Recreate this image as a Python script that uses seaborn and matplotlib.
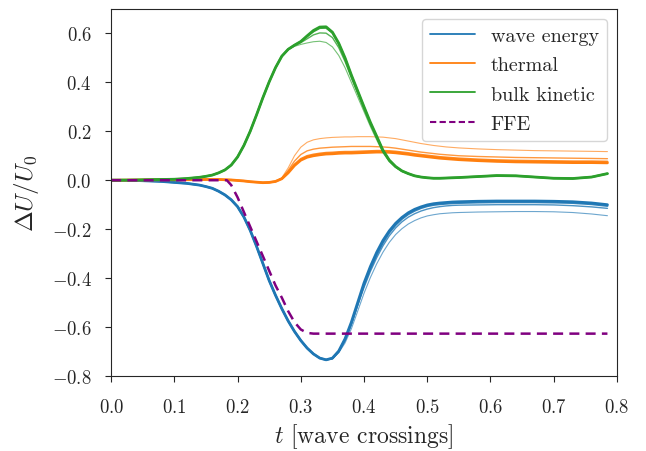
import numpy as np
import pandas as pd
import matplotlib
matplotlib.use("Agg")
import matplotlib.pyplot as plt
from matplotlib.lines import Line2D
import seaborn as sns

# ---------------- data ----------------
t = [0.0, 0.04, 0.08, 0.10, 0.12, 0.14, 0.15, 0.16, 0.17, 0.18, 0.19, 0.20, 0.21, 0.22,
     0.23, 0.24, 0.25, 0.26,
     0.27, 0.28, 0.29, 0.30, 0.31, 0.32, 0.33, 0.34, 0.35, 0.36, 0.37, 0.38, 0.39, 0.40,
     0.41, 0.42, 0.43, 0.44, 0.45, 0.46, 0.47, 0.48, 0.49, 0.50, 0.51, 0.52, 0.53, 0.54, 0.55,
     0.58, 0.61, 0.64, 0.67, 0.70, 0.73, 0.76, 0.785]

# early part (t <= 0.26) identical for every resolution
wave_early = [0, -0.001, -0.005, -0.009, -0.013, -0.02, -0.026, -0.033, -0.045, -0.06, -0.08,
              -0.108, -0.15, -0.205, -0.27, -0.34, -0.41, -0.47]
therm_early = [0, 0.001, 0.002, 0.002, 0.002, 0.003, 0.003, 0.003, 0.003, 0.002, 0.001,
               -0.001, -0.003, -0.006, -0.008, -0.01, -0.009, -0.005]
kin_early = [0, 0.001, 0.003, 0.004, 0.007, 0.012, 0.016, 0.021, 0.03, 0.042, 0.062,
             0.095, 0.142, 0.2, 0.267, 0.337, 0.402, 0.46]

# wave energy, t >= 0.27, four resolutions (lowest -> highest)
wave_r1 = [-0.525, -0.575, -0.618, -0.655, -0.686, -0.71, -0.727, -0.734, -0.73, -0.705,
           -0.665, -0.607, -0.535, -0.462, -0.398, -0.342, -0.294, -0.254, -0.222, -0.198,
           -0.179, -0.165, -0.154, -0.146, -0.141, -0.137, -0.135, -0.133, -0.132,
           -0.13, -0.129, -0.128, -0.128, -0.129, -0.132, -0.138, -0.145]
wave_r2 = [-0.525, -0.575, -0.618, -0.655, -0.686, -0.71, -0.727, -0.734, -0.729, -0.701,
           -0.655, -0.59, -0.512, -0.438, -0.373, -0.317, -0.268, -0.227, -0.195, -0.17,
           -0.151, -0.137, -0.126, -0.118, -0.112, -0.108, -0.105, -0.103, -0.102,
           -0.101, -0.1, -0.1, -0.1, -0.101, -0.104, -0.109, -0.115]
wave_r3 = [-0.525, -0.575, -0.618, -0.655, -0.686, -0.71, -0.727, -0.734, -0.728, -0.7,
           -0.651, -0.585, -0.506, -0.428, -0.361, -0.304, -0.255, -0.214, -0.183, -0.158,
           -0.139, -0.125, -0.114, -0.106, -0.101, -0.098, -0.096, -0.094, -0.093,
           -0.091, -0.09, -0.09, -0.09, -0.091, -0.093, -0.098, -0.105]
wave_r4 = [-0.525, -0.575, -0.618, -0.655, -0.686, -0.71, -0.727, -0.734, -0.727, -0.698,
           -0.648, -0.58, -0.5, -0.42, -0.353, -0.295, -0.246, -0.207, -0.176, -0.152,
           -0.133, -0.119, -0.109, -0.101, -0.096, -0.093, -0.091, -0.089, -0.088,
           -0.086, -0.085, -0.085, -0.085, -0.086, -0.088, -0.093, -0.1]

# thermal, t >= 0.27
therm_r1 = [0.01, 0.05, 0.1, 0.135, 0.155, 0.165, 0.17, 0.173, 0.175, 0.176,
            0.177, 0.177, 0.178, 0.178, 0.178, 0.177, 0.176, 0.173, 0.17, 0.165,
            0.16, 0.155, 0.15, 0.146, 0.142, 0.139, 0.136, 0.134, 0.132,
            0.128, 0.125, 0.123, 0.121, 0.12, 0.119, 0.118, 0.117]
therm_r2 = [0.008, 0.04, 0.078, 0.105, 0.12, 0.127, 0.131, 0.133, 0.135, 0.136,
            0.137, 0.138, 0.138, 0.138, 0.138, 0.137, 0.136, 0.134, 0.131, 0.127,
            0.123, 0.119, 0.115, 0.112, 0.109, 0.106, 0.104, 0.102, 0.1,
            0.097, 0.095, 0.093, 0.092, 0.091, 0.09, 0.089, 0.088]
therm_r3 = [0.007, 0.033, 0.064, 0.087, 0.099, 0.105, 0.109, 0.112, 0.113, 0.115,
            0.116, 0.116, 0.117, 0.118, 0.119, 0.12, 0.12, 0.119, 0.117, 0.114,
            0.111, 0.107, 0.104, 0.101, 0.098, 0.095, 0.093, 0.091, 0.089,
            0.085, 0.082, 0.08, 0.079, 0.078, 0.077, 0.077, 0.076]
therm_r4 = [0.006, 0.03, 0.06, 0.082, 0.094, 0.1, 0.104, 0.107, 0.108, 0.11,
            0.111, 0.111, 0.112, 0.113, 0.114, 0.115, 0.115, 0.114, 0.112, 0.109,
            0.106, 0.102, 0.099, 0.096, 0.093, 0.09, 0.088, 0.086, 0.084,
            0.08, 0.077, 0.075, 0.074, 0.073, 0.072, 0.072, 0.071]

# bulk kinetic, t >= 0.27
kin_r1 = [0.507, 0.533, 0.547, 0.555, 0.561, 0.566, 0.568, 0.563, 0.545, 0.51,
          0.46, 0.40, 0.34, 0.28, 0.22, 0.165, 0.112, 0.075, 0.052, 0.036,
          0.026, 0.018, 0.013, 0.01, 0.008, 0.008, 0.009, 0.01, 0.011,
          0.015, 0.019, 0.018, 0.013, 0.008, 0.007, 0.013, 0.027]
kin_r2 = [0.507, 0.534, 0.55, 0.562, 0.578, 0.594, 0.602, 0.601, 0.583, 0.542,
          0.485, 0.418, 0.355, 0.29, 0.228, 0.172, 0.118, 0.079, 0.054, 0.037,
          0.027, 0.018, 0.013, 0.01, 0.008, 0.008, 0.009, 0.01, 0.011,
          0.015, 0.019, 0.018, 0.013, 0.008, 0.007, 0.013, 0.027]
kin_r3 = [0.507, 0.535, 0.552, 0.566, 0.588, 0.608, 0.622, 0.623, 0.603, 0.558,
          0.498, 0.428, 0.363, 0.298, 0.234, 0.178, 0.121, 0.081, 0.055, 0.038,
          0.027, 0.018, 0.013, 0.01, 0.008, 0.008, 0.009, 0.01, 0.011,
          0.015, 0.019, 0.018, 0.013, 0.008, 0.007, 0.013, 0.027]
kin_r4 = [0.507, 0.535, 0.552, 0.567, 0.59, 0.612, 0.626, 0.627, 0.605, 0.56,
          0.5, 0.43, 0.365, 0.3, 0.237, 0.18, 0.122, 0.082, 0.056, 0.038,
          0.027, 0.018, 0.013, 0.01, 0.008, 0.008, 0.009, 0.01, 0.011,
          0.015, 0.019, 0.018, 0.013, 0.008, 0.007, 0.013, 0.027]

# force-free electrodynamics reference
t_ffe = [0.0, 0.183, 0.19, 0.20, 0.21, 0.22, 0.23, 0.24, 0.25, 0.26, 0.27, 0.28,
         0.29, 0.30, 0.31, 0.32, 0.785]
ffe = [0.0, 0.0, -0.02, -0.07, -0.13, -0.19, -0.25, -0.31, -0.37, -0.43, -0.48, -0.535,
       -0.58, -0.61, -0.624, -0.627, -0.627]

labels = ["wave energy", "thermal", "bulk kinetic", "FFE"]
colors = ["#1f77b4", "#ff7f0e", "#2ca02c", "purple"]

# ---------------- plotting ----------------
sns.set_style("ticks")
plt.rcParams["font.family"] = ["serif"]
plt.rcParams["font.serif"] = ["cmr10", "DejaVu Serif"]
plt.rcParams["mathtext.fontset"] = "cm"
plt.rcParams["axes.formatter.use_mathtext"] = True
plt.rcParams["axes.unicode_minus"] = True

fig = plt.figure(figsize=(6.46, 4.52), dpi=100)
ax = fig.add_axes([0.172, 0.166, 0.783, 0.812])

widths = [0.8, 1.0, 1.5, 2.0]
alphas = [0.65, 0.8, 0.9, 1.0]
series = [
    (colors[0], wave_early, [wave_r1, wave_r2, wave_r3, wave_r4]),
    (colors[1], therm_early, [therm_r1, therm_r2, therm_r3, therm_r4]),
    (colors[2], kin_early, [kin_r1, kin_r2, kin_r3, kin_r4]),
]
for col, early, runs in series:
    for tail, lw, al in zip(runs, widths, alphas):
        sns.lineplot(x=t, y=early + tail, ax=ax, color=col, lw=lw, alpha=al,
                     sort=False, estimator=None)

sns.lineplot(x=t_ffe, y=ffe, ax=ax, color=colors[3], lw=1.8,
             linestyle=(0, (4, 2.5)), sort=False, estimator=None)

ax.set_xlim(0, 0.8)
ax.set_ylim(-0.8, 0.7)
ax.set_xticks(np.arange(0, 0.81, 0.1))
ax.set_yticks(np.arange(-0.8, 0.61, 0.2))
ax.tick_params(labelsize=13.5, length=4)
ax.tick_params(axis="x", pad=12)
ax.tick_params(axis="y", pad=10)
ax.set_xlabel(r"$t$ [wave crossings]", fontsize=17, labelpad=4)
ax.set_ylabel(r"$\Delta U/U_0$", fontsize=18, labelpad=8)

handles = [Line2D([], [], color=colors[0], lw=1.3),
           Line2D([], [], color=colors[1], lw=1.3),
           Line2D([], [], color=colors[2], lw=1.3),
           Line2D([], [], color=colors[3], lw=1.5, linestyle=(0, (3, 1.6)))]
ax.legend(handles, labels, loc="upper right", fontsize=14.5, frameon=True,
          handlelength=2.2, labelspacing=0.55)

fig.savefig("out.png", dpi=100)
